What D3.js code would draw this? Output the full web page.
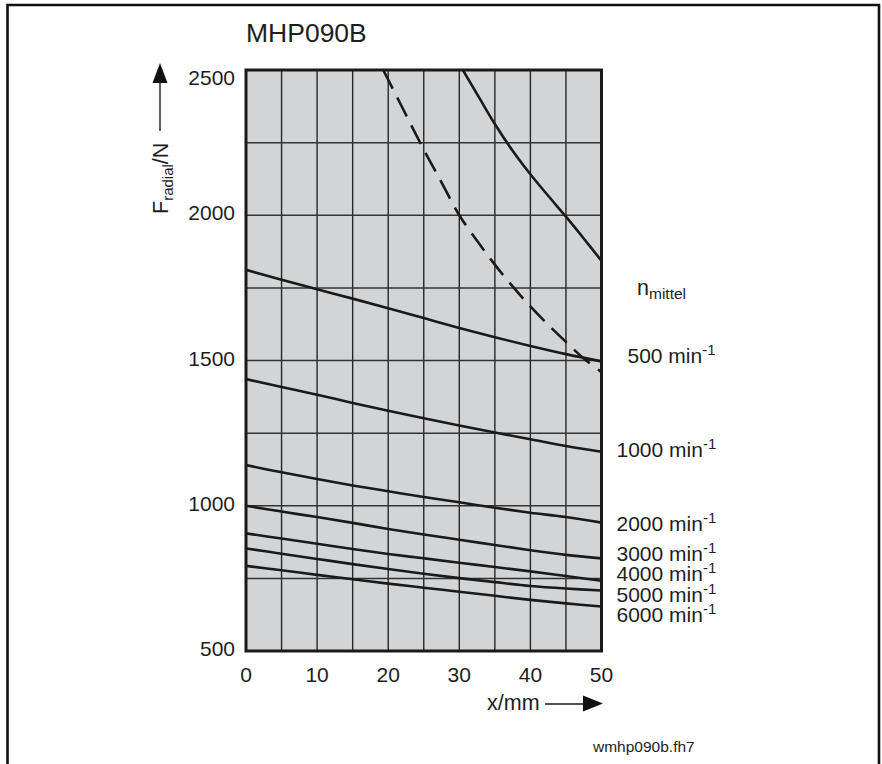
<!DOCTYPE html>
<html>
<head>
<meta charset="utf-8">
<script src="https://cdn.jsdelivr.net/npm/d3@7"></script>
<style>
  html, body { margin: 0; padding: 0; background: #fff; }
  svg { display: block; }
  text { font-family: "Liberation Sans", Arial, Helvetica, sans-serif; fill: #1e1e1e; }
</style>
</head>
<body>
<svg id="chart" width="882" height="764"></svg>
<script>
// ---- data ----
const chartTitle = "MHP090B";
const xPositions = [0, 5, 10, 15, 20, 25, 30, 35, 40, 45, 50];          // x / mm
const speedLabels = ["500", "1000", "2000", "3000", "4000", "5000", "6000"]; // n_mittel / min^-1
const force500  = [1812, 1778, 1745, 1713, 1680, 1646, 1612, 1580, 1550, 1522, 1497];
const force1000 = [1436, 1409, 1382, 1354, 1327, 1301, 1276, 1252, 1229, 1206, 1186];
const force2000 = [1140, 1115, 1092, 1070, 1050, 1030, 1012, 993, 976, 961, 942];
const force3000 = [1000, 980, 961, 941, 920, 901, 883, 865, 847, 831, 819];
const force4000 = [905, 887, 869, 851, 834, 819, 804, 789, 774, 758, 742];
const force5000 = [853, 835, 817, 799, 782, 766, 751, 737, 724, 715, 708];
const force6000 = [793, 778, 762, 747, 732, 718, 704, 690, 676, 664, 653];
// bearing limit curves
const dashedX = [19.3, 22, 24.7, 27.5, 30, 32.5, 35, 37.5, 40, 42.5, 45, 47.5, 50];
const dashedF = [2500, 2370, 2240, 2113, 2000, 1912, 1830, 1755, 1686, 1623, 1564, 1507, 1460];
const limitX  = [30.5, 33, 35, 37.5, 40, 42.5, 45, 47.5, 50];
const limitF  = [2500, 2396, 2314, 2222, 2141, 2067, 1995, 1920, 1843];
const xTickLabels = [0, 10, 20, 30, 40, 50];
const yTickLabels = [500, 1000, 1500, 2000, 2500];
const fileLabel = "wmhp090b.fh7";

// ---- layout ----
const svg = d3.select("#chart");
const pL = 246, pR = 601.5, pT = 70, pB = 651;
const x = d3.scaleLinear().domain([0, 50]).range([pL, pR]);
const y = d3.scaleLinear().domain([500, 2500]).range([pB, pT]);

// outer frame (open at bottom)
svg.append("path")
  .attr("d", "M7.5,764 V5 H879 V764")
  .attr("fill", "none").attr("stroke", "#111").attr("stroke-width", 2.6);

// title
svg.append("text").attr("x", 246).attr("y", 42)
  .style("font-size", "26.5px").text(chartTitle);

// plot background
svg.append("rect").attr("x", pL).attr("y", pT)
  .attr("width", pR - pL).attr("height", pB - pT)
  .attr("fill", "#d3d4d6");

// grid
const g = svg.append("g");
g.selectAll("line.v").data(d3.range(0, 51, 5)).enter().append("line")
  .attr("x1", d => x(d)).attr("x2", d => x(d)).attr("y1", pT).attr("y2", pB)
  .attr("stroke", "#262626").attr("stroke-width", 1.4);
g.selectAll("line.h").data(d3.range(500, 2501, 250)).enter().append("line")
  .attr("x1", pL).attr("x2", pR).attr("y1", d => y(d)).attr("y2", d => y(d))
  .attr("stroke", "#333").attr("stroke-width", 1.5);

// curves
const line = d3.line().x(d => x(d[0])).y(d => y(d[1])).curve(d3.curveCatmullRom.alpha(0.5));
svg.append("clipPath").attr("id", "clip").append("rect")
  .attr("x", pL).attr("y", pT).attr("width", pR - pL).attr("height", pB - pT);
const curves = [force500, force1000, force2000, force3000, force4000, force5000, force6000];
const cg = svg.append("g").attr("clip-path", "url(#clip)");
curves.forEach(vals => {
  cg.append("path").datum(xPositions.map((xv, i) => [xv, vals[i]]))
    .attr("d", line).attr("fill", "none").attr("stroke", "#1a1a1a").attr("stroke-width", 2.6);
});
cg.append("path").datum(dashedX.map((xv, i) => [xv, dashedF[i]]))
  .attr("d", line).attr("fill", "none").attr("stroke", "#1a1a1a")
  .attr("stroke-width", 2.6).attr("stroke-dasharray", "21,10");
cg.append("path").datum(limitX.map((xv, i) => [xv, limitF[i]]))
  .attr("d", line).attr("fill", "none").attr("stroke", "#1a1a1a").attr("stroke-width", 2.6);

// plot border
svg.append("rect").attr("x", pL).attr("y", pT)
  .attr("width", pR - pL).attr("height", pB - pT)
  .attr("fill", "none").attr("stroke", "#1a1a1a").attr("stroke-width", 3);

// x tick labels
svg.selectAll("text.xt").data(xTickLabels).enter().append("text")
  .attr("x", d => x(d)).attr("y", 682).attr("text-anchor", "middle")
  .style("font-size", "21px").text(d => d);
// y tick labels
svg.selectAll("text.yt").data(yTickLabels).enter().append("text")
  .attr("x", 235).attr("y", d => d === 2500 ? 85 : y(d) + 5).attr("text-anchor", "end")
  .style("font-size", "21px").text(d => d);

// y axis title (rotated) with arrow
const yt = svg.append("text").attr("transform", "translate(168,214) rotate(-90)")
  .style("font-size", "21.5px");
yt.append("tspan").text("F");
yt.append("tspan").attr("dy", 5).style("font-size", "15px").text("radial");
yt.append("tspan").attr("dy", -5).text("/N");
svg.append("line").attr("x1", 160).attr("x2", 160).attr("y1", 131).attr("y2", 82)
  .attr("stroke", "#1a1a1a").attr("stroke-width", 1.4);
svg.append("path").attr("d", "M160,63 L152.5,83 L167.5,83 Z").attr("fill", "#111");

// x axis title with arrow
svg.append("text").attr("x", 487).attr("y", 710).style("font-size", "21.5px").text("x/mm");
svg.append("line").attr("x1", 545).attr("x2", 585).attr("y1", 704).attr("y2", 704)
  .attr("stroke", "#1a1a1a").attr("stroke-width", 1.4);
svg.append("path").attr("d", "M603,703.5 L583,695.5 L583,711.5 Z").attr("fill", "#111");

// legend: n_mittel and speed labels
const nm = svg.append("text").attr("x", 637).attr("y", 295).style("font-size", "21.5px");
nm.append("tspan").text("n");
nm.append("tspan").attr("dy", 4).style("font-size", "15.5px").text("mittel");

const labelX = [627.5, 616.5, 616.5, 616.5, 616.5, 616.5, 616.5];
const labelY = [363, 457, 531, 561, 581, 602, 622];
speedLabels.forEach((s, i) => {
  const t = svg.append("text").attr("x", labelX[i]).attr("y", labelY[i]).style("font-size", "21px");
  t.append("tspan").text(s + " min");
  t.append("tspan").attr("dy", -8).style("font-size", "15px").text("-1");
});

// file label
svg.append("text").attr("x", 593).attr("y", 752).style("font-size", "15.5px").text(fileLabel);
</script>
</body>
</html>
